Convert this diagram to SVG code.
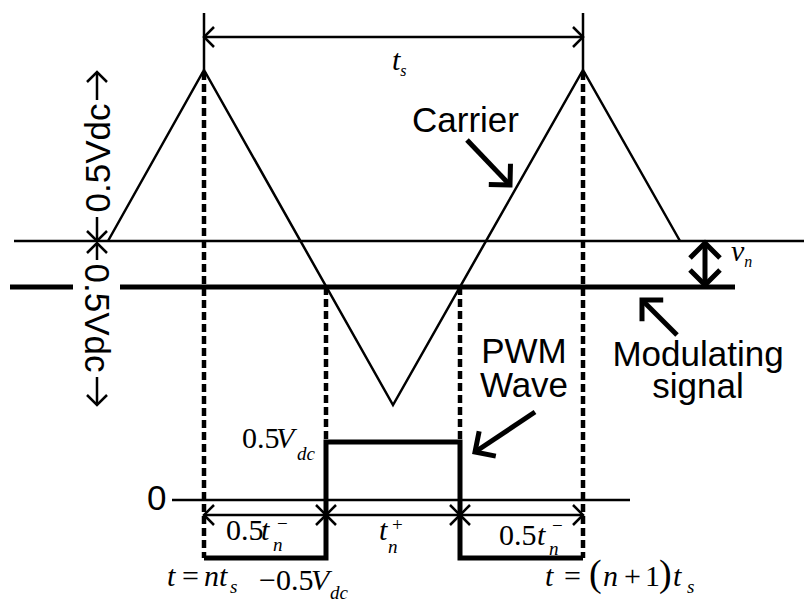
<svg xmlns="http://www.w3.org/2000/svg" width="804" height="604" viewBox="0 0 804 604">
<style>
.ln{stroke:#000;fill:none;stroke-width:2.5}
.thk{stroke:#000;fill:none;stroke-width:5}
.dash{stroke:#000;fill:none;stroke-width:4.5;stroke-dasharray:8 4}
.sans{font-family:"Liberation Sans",Arial,sans-serif;font-size:35px;fill:#000}
.ser{font-family:"Liberation Serif","Times New Roman",serif;font-size:30px;fill:#000}
.i{font-style:italic}
.sm{font-size:19px}
</style>
<defs>
<marker id="at" markerUnits="userSpaceOnUse" markerWidth="1" markerHeight="1" orient="auto-start-reverse" overflow="visible">
<path d="M-10,-10 L0,0 L-10,10" fill="none" stroke="#000" stroke-width="2.5"/>
</marker>
<marker id="ab" markerUnits="userSpaceOnUse" markerWidth="1" markerHeight="1" orient="auto-start-reverse" overflow="visible">
<path d="M-15,-15 L0,0 L-15,15" fill="none" stroke="#000" stroke-width="5"/>
</marker>
</defs>

<g id="axes">
<line class="ln" x1="14" y1="241" x2="804" y2="241"/>
<line class="thk" x1="10" y1="287" x2="73" y2="287"/>
<line class="thk" x1="120" y1="287" x2="735" y2="287"/>
<line class="ln" x1="172" y1="500" x2="630" y2="500" stroke-width="2"/>
<line class="ln" x1="204" y1="13" x2="204" y2="70"/>
<line class="ln" x1="583" y1="13" x2="583" y2="70"/>
</g>

<g id="carrier">
<polyline class="ln" points="108,241 204,70 393,405 583,70 680,241"/>
</g>

<g id="guides">
<line class="dash" x1="204" y1="72" x2="204" y2="558"/>
<line class="dash" x1="583" y1="72" x2="583" y2="558"/>
<line class="dash" x1="326" y1="287" x2="326" y2="442"/>
<line class="dash" x1="460" y1="287" x2="460" y2="442"/>
</g>

<g id="pwm">
<polyline class="thk" points="204,558 326,558 326,442 460,442 460,558 583,558"/>
</g>

<g id="connectors">
<line class="ln" x1="204" y1="37" x2="583" y2="37" marker-start="url(#at)" marker-end="url(#at)"/>
<line class="ln" x1="204" y1="515" x2="326" y2="515" marker-start="url(#at)" marker-end="url(#at)"/>
<line class="ln" x1="326" y1="515" x2="460" y2="515" marker-start="url(#at)" marker-end="url(#at)"/>
<line class="ln" x1="460" y1="515" x2="583" y2="515" marker-start="url(#at)" marker-end="url(#at)"/>
<line class="ln" x1="97" y1="217" x2="97" y2="241" marker-end="url(#at)"/>
<line class="ln" x1="97" y1="100" x2="97" y2="72" marker-end="url(#at)"/>
<line class="ln" x1="97" y1="260" x2="97" y2="243" marker-end="url(#at)"/>
<line class="ln" x1="97" y1="377" x2="97" y2="405" marker-end="url(#at)"/>
<line class="thk" x1="705" y1="243" x2="705" y2="285" marker-start="url(#ab)" marker-end="url(#ab)"/>
<line class="thk" x1="467" y1="140" x2="510" y2="185" marker-end="url(#ab)"/>
<line class="thk" x1="677" y1="335" x2="642" y2="300" marker-end="url(#ab)"/>
<line class="thk" x1="535" y1="412" x2="475" y2="452" marker-end="url(#ab)"/>
</g>

<g id="labels">
<text class="sans" transform="translate(110,158) rotate(-90)" text-anchor="middle">0.5Vdc</text>
<text class="sans" transform="translate(85,318) rotate(90)" text-anchor="middle">0.5Vdc</text>
<text class="sans" x="412" y="132">Carrier</text>
<text class="sans" x="524" y="363" text-anchor="middle" font-size="33">PWM</text>
<text class="sans" x="524" y="397" text-anchor="middle" font-size="33">Wave</text>
<text class="sans" x="698" y="366" text-anchor="middle" font-size="34">Modulating</text>
<text class="sans" x="698" y="398" text-anchor="middle" font-size="34">signal</text>
<text class="sans" x="147" y="510" font-size="31">0</text>

<text class="ser i" x="392" y="70" font-size="24">t<tspan font-size="16" dy="6">s</tspan></text>

<text class="ser i" x="731" y="261" font-size="23">v<tspan font-size="16" dy="6">n</tspan></text>

<text class="ser" y="448"><tspan x="242">0.5</tspan><tspan x="276" class="i">V</tspan><tspan x="297" y="460" class="i sm">dc</tspan></text>

<text class="ser" y="540"><tspan x="226">0.5</tspan><tspan x="261" class="i">t</tspan><tspan x="273" y="551" class="i sm">n</tspan><tspan x="277" y="530" class="sm">−</tspan></text>

<text class="ser" y="540"><tspan x="379" class="i">t</tspan><tspan x="388" y="553" class="i sm">n</tspan><tspan x="392" y="531" class="sm">+</tspan></text>

<text class="ser" y="545"><tspan x="499">0.5</tspan><tspan x="537" class="i">t</tspan><tspan x="549" y="555" class="i sm">n</tspan><tspan x="552" y="532" class="sm">−</tspan></text>

<text class="ser" y="586"><tspan x="167" class="i">t</tspan><tspan x="182">=</tspan><tspan x="204" class="i">nt</tspan><tspan x="230" y="593" class="i sm">s</tspan></text>

<text class="ser" y="590"><tspan x="259">−0.5</tspan><tspan x="311" class="i">V</tspan><tspan x="330" y="599" class="i sm">dc</tspan></text>

<text class="ser" y="586"><tspan x="545" class="i">t</tspan><tspan x="564">=</tspan><tspan x="589" font-size="38">(</tspan><tspan x="603" class="i">n</tspan><tspan x="624">+</tspan><tspan x="645">1</tspan><tspan x="659" font-size="38">)</tspan><tspan x="673" class="i">t</tspan><tspan x="687" y="593" class="i sm">s</tspan></text>
</g>
</svg>
